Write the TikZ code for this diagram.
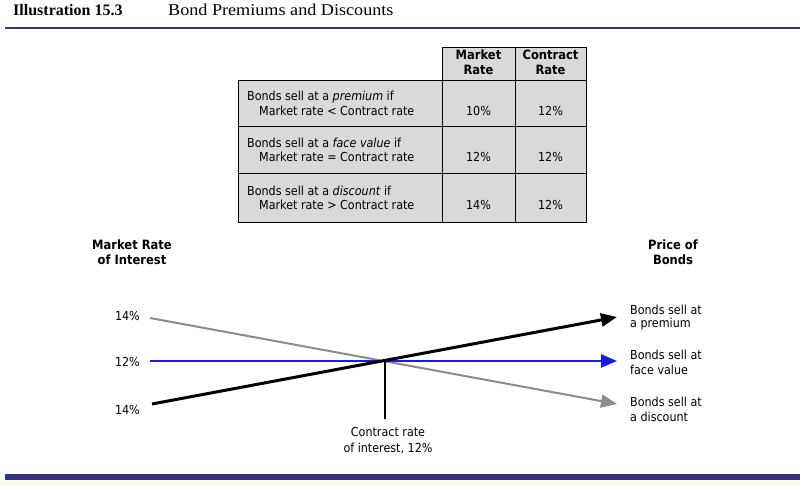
\documentclass[tikz,border=0pt]{standalone}
\usepackage{fontspec}
\setmainfont{Liberation Serif}
\newfontfamily\ttlfont[FakeStretch=1.1]{Liberation Serif}
\newfontfamily\tah{DejaVu Sans Condensed}
\usetikzlibrary{arrows.meta}
\definecolor{navy}{HTML}{35357F}
\definecolor{cellgray}{HTML}{D9D9D9}
\definecolor{cream}{HTML}{FCFBEA}
\definecolor{linegray}{HTML}{8C8C8C}
\definecolor{lineblue}{HTML}{1A1AE0}
\begin{document}
\begin{tikzpicture}[x=1pt,y=-1pt,
  cell/.style={draw=black, line width=1.4pt, fill=cellgray, inner sep=0pt, anchor=north west},
  txt/.style={font=\tah\fontsize{12.4}{14}\selectfont, inner sep=0pt, anchor=base west},
  txtc/.style={txt, anchor=base},
  txtr/.style={txt, anchor=base east},
  bold/.style={font=\tah\bfseries\fontsize{12.8}{14}\selectfont, inner sep=0pt, anchor=base},
  arr/.style={-{Triangle[length=16pt,width=13pt]}}
]
\useasboundingbox (0,0) rectangle (800,486);
\fill[white] (0,0) rectangle (800,486);
\fill[cream] (0,480) rectangle (800,486);

% title
\node[anchor=base west, inner sep=0pt, font=\bfseries\fontsize{16}{18}\selectfont] (ill) at (13,16) {Illustration 15.3};
\node[anchor=base west, inner sep=0pt, font=\ttlfont\fontsize{16.5}{18}\selectfont] (ttl) at (168,16) {Bond Premiums and Discounts};
\draw[navy, line width=2.5pt] (5,28) -- (800,28);

% table header
\node[cell, minimum width=73pt, minimum height=33pt] (hm) at (442,47) {};
\node[cell, minimum width=71pt, minimum height=33pt] (hc) at (515,47) {};
\node[bold] (hm1) at (478.5,60) {Market};
\node[bold] (hm2) at (478.5,75) {Rate};
\node[bold] (hc1) at (550.5,60) {Contract};
\node[bold] (hc2) at (550.5,75) {Rate};

% rows
\node[cell, minimum width=204pt, minimum height=46pt] (r1l) at (238,80) {};
\node[cell, minimum width=73pt, minimum height=46pt] (r1m) at (442,80) {};
\node[cell, minimum width=71pt, minimum height=46pt] (r1c) at (515,80) {};
\node[cell, minimum width=204pt, minimum height=47pt] (r2l) at (238,126) {};
\node[cell, minimum width=73pt, minimum height=47pt] (r2m) at (442,126) {};
\node[cell, minimum width=71pt, minimum height=47pt] (r2c) at (515,126) {};
\node[cell, minimum width=204pt, minimum height=49pt] (r3l) at (238,173) {};
\node[cell, minimum width=73pt, minimum height=49pt] (r3m) at (442,173) {};
\node[cell, minimum width=71pt, minimum height=49pt] (r3c) at (515,173) {};

\node[txt] (t1a) at (247,101) {Bonds sell at a \textit{premium} if};
\node[txt] (t1b) at (259,116) {Market rate < Contract rate};
\node[txtc] (v1m) at (478.5,116) {10\%};
\node[txtc] (v1c) at (550.5,116) {12\%};
\node[txt] (t2a) at (247,148) {Bonds sell at a \textit{face value} if};
\node[txt] (t2b) at (259,162) {Market rate = Contract rate};
\node[txtc] (v2m) at (478.5,162) {12\%};
\node[txtc] (v2c) at (550.5,162) {12\%};
\node[txt] (t3a) at (247,196) {Bonds sell at a \textit{discount} if};
\node[txt] (t3b) at (259,210) {Market rate > Contract rate};
\node[txtc] (v3m) at (478.5,210) {14\%};
\node[txtc] (v3c) at (550.5,210) {12\%};

% chart headings
\node[bold] (mr1) at (132,250) {Market Rate};
\node[bold] (mr2) at (132,265) {of Interest};
\node[bold] (pb1) at (673,250) {Price of};
\node[bold] (pb2) at (673,265) {Bonds};

\node[txtr] (p14a) at (140,320) {14\%};
\node[txtr] (p12) at (140,366.5) {12\%};
\node[txtr] (p14b) at (140,414) {14\%};

\coordinate (gs) at (150,318);
\coordinate (bs) at (150,361);
\coordinate (ks) at (152,404);
\coordinate (ge) at (617,404);
\coordinate (be) at (617,361);
\coordinate (ke) at (617,317);
\coordinate (x) at (385,361);
\coordinate (xd) at (385,419);

\draw[linegray, line width=2pt, arr] (gs) -- (ge);
\draw[lineblue, line width=2.5pt, arr] (bs) -- (be);
\draw[black, line width=3pt, arr] (ks) -- (ke);
\draw[black, line width=1.5pt] (x) -- (xd);

\node[txtc] (cr1) at (388,436.5) {Contract rate};
\node[txtc] (cr2) at (388,452.5) {of interest, 12\%};

\node[txt] (l1a) at (630,314) {Bonds sell at};
\node[txt] (l1b) at (630,327) {a premium};
\node[txt] (l2a) at (630,359) {Bonds sell at};
\node[txt] (l2b) at (630,374) {face value};
\node[txt] (l3a) at (630,406.5) {Bonds sell at};
\node[txt] (l3b) at (630,421.5) {a discount};

\draw[navy, line width=6pt] (5,476.5) -- (800,476.5);
\end{tikzpicture}
\end{document}
